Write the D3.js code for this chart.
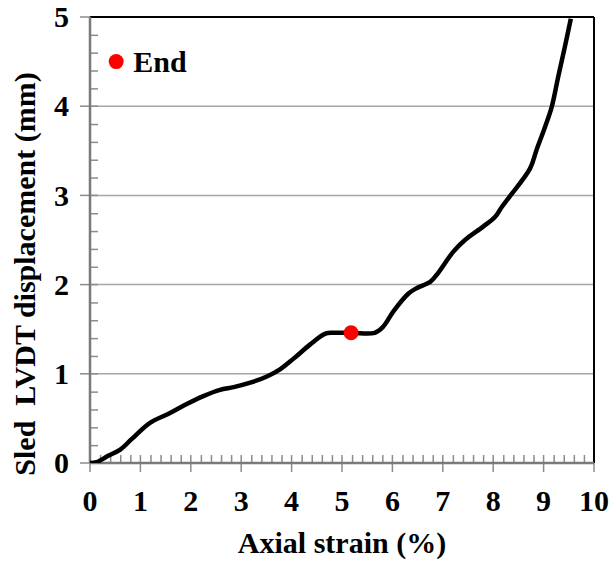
<!DOCTYPE html>
<html>
<head>
<meta charset="utf-8">
<script src="https://cdn.jsdelivr.net/npm/d3@7"></script>
<style>
  body { margin: 0; background: #fff; }
  svg text { font-family: "Liberation Serif", "Times New Roman", serif; font-weight: bold; fill: #000; }
</style>
</head>
<body>
<script>
// data
var strain = [0, 0.13, 0.36, 0.6, 0.83, 1.19, 1.55, 1.88, 2.25, 2.58, 2.85, 3.18, 3.51, 3.77, 4.04, 4.37, 4.67, 4.83, 5.2, 5.65, 5.82, 6.02, 6.32, 6.48, 6.75, 6.88, 7.21, 7.44, 7.8, 8.04, 8.17, 8.33, 8.73, 8.86, 9.03, 9.16, 9.29, 9.42, 9.54];
var displacement = [0, 0.01, 0.08, 0.15, 0.27, 0.45, 0.55, 0.65, 0.75, 0.82, 0.85, 0.90, 0.97, 1.05, 1.17, 1.33, 1.45, 1.46, 1.46, 1.46, 1.53, 1.70, 1.90, 1.96, 2.03, 2.11, 2.37, 2.50, 2.65, 2.76, 2.87, 2.99, 3.30, 3.51, 3.77, 3.99, 4.33, 4.66, 4.98];
var endPoint = [5.18, 1.46];
var xTicks = [0, 1, 2, 3, 4, 5, 6, 7, 8, 9, 10];
var yTicks = [0, 1, 2, 3, 4, 5];
var legendLabel = "End";

var W = 611, H = 565,
    margin = { top: 17, right: 17, bottom: 102, left: 90 },
    width = W - margin.left - margin.right,
    height = H - margin.top - margin.bottom;

var xScale = d3.scaleLinear().domain([0, 10]).range([0, width]);
var yScale = d3.scaleLinear().domain([0, 5]).range([height, 0]);

var svg = d3.select("body").append("svg")
    .attr("width", W)
    .attr("height", H)
    .append("g")
    .attr("transform", "translate(" + margin.left + "," + margin.top + ")");

var gray = "#8c8c8c";

// gridlines
svg.append("g")
    .selectAll("line")
    .data(yTicks.slice(1, -1))
    .enter().append("line")
    .attr("x1", 0).attr("x2", width)
    .attr("y1", d => yScale(d)).attr("y2", d => yScale(d))
    .attr("stroke", "#a6a6a6").attr("stroke-width", 1.5);

// minor ticks
var xMinor = d3.range(0, 10.001, 0.2).filter(d => Math.abs(d - Math.round(d)) > 1e-6);
var yMinor = d3.range(0, 5.001, 0.2).filter(d => Math.abs(d - Math.round(d)) > 1e-6);

svg.append("g")
    .attr("transform", "translate(0," + height + ")")
    .call(d3.axisBottom(xScale).tickValues(xMinor).tickSize(-8).tickFormat(""))
    .call(g => g.select(".domain").remove())
    .selectAll("line").attr("stroke", gray).attr("stroke-width", 1.5);
svg.append("g")
    .call(d3.axisLeft(yScale).tickValues(yMinor).tickSize(-8).tickFormat(""))
    .call(g => g.select(".domain").remove())
    .selectAll("line").attr("stroke", gray).attr("stroke-width", 1.5);

// major ticks crossing the axes
svg.append("g").selectAll("line")
    .data(xTicks).enter().append("line")
    .attr("x1", d => xScale(d)).attr("x2", d => xScale(d))
    .attr("y1", height - 8).attr("y2", height + 9)
    .attr("stroke", gray).attr("stroke-width", 1.5);
svg.append("g").selectAll("line")
    .data(yTicks).enter().append("line")
    .attr("x1", -10).attr("x2", 8)
    .attr("y1", d => yScale(d)).attr("y2", d => yScale(d))
    .attr("stroke", gray).attr("stroke-width", 1.5);

// border: black top/right, gray left/bottom axes
svg.append("line").attr("x1", 0).attr("x2", width).attr("y1", 0).attr("y2", 0)
    .attr("stroke", "#000").attr("stroke-width", 2);
svg.append("line").attr("x1", width).attr("x2", width).attr("y1", 0).attr("y2", height)
    .attr("stroke", "#000").attr("stroke-width", 2);
svg.append("line").attr("x1", 0).attr("x2", 0).attr("y1", 0).attr("y2", height)
    .attr("stroke", "#7a7a7a").attr("stroke-width", 2.5);
svg.append("line").attr("x1", 0).attr("x2", width).attr("y1", height).attr("y2", height)
    .attr("stroke", "#7a7a7a").attr("stroke-width", 2.5);

// tick labels
svg.append("g").selectAll("text")
    .data(xTicks).enter().append("text")
    .attr("x", d => xScale(d))
    .attr("y", height + 48)
    .attr("text-anchor", "middle")
    .style("font-size", "30px")
    .text(d => d);
svg.append("g").selectAll("text")
    .data(yTicks).enter().append("text")
    .attr("x", -21)
    .attr("y", d => yScale(d))
    .attr("dy", "0.34em")
    .attr("text-anchor", "end")
    .style("font-size", "30px")
    .text(d => d);

// axis titles
svg.append("text")
    .attr("x", width / 2)
    .attr("y", height + 90)
    .attr("text-anchor", "middle")
    .style("font-size", "30px")
    .text("Axial strain (%)");
svg.append("text")
    .attr("transform", "translate(" + (35 - margin.left) + "," + (274 - margin.top) + ") rotate(-90)")
    .attr("text-anchor", "middle")
    .style("font-size", "30px")
    .style("white-space", "pre")
    .attr("xml:space", "preserve")
    .text("Sled  LVDT displacement (mm)");

// curve
var points = strain.map((s, i) => [s, displacement[i]]);
var line = d3.line()
    .x(d => xScale(d[0]))
    .y(d => yScale(d[1]))
    .curve(d3.curveCatmullRom.alpha(0.5));

svg.append("defs").append("clipPath").attr("id", "clip")
    .append("rect").attr("x", 0).attr("y", 0).attr("width", width).attr("height", height);

svg.append("path")
    .attr("d", line(points))
    .attr("fill", "none")
    .attr("stroke", "#000")
    .attr("stroke-width", 4.5)
    .attr("stroke-linejoin", "round")
    .attr("clip-path", "url(#clip)");

// end marker
svg.append("circle")
    .attr("cx", xScale(endPoint[0]))
    .attr("cy", yScale(endPoint[1]))
    .attr("r", 7.5)
    .attr("fill", "#ff0000");

// legend
var legend = svg.append("g")
    .attr("transform", "translate(" + xScale(0.52) + "," + yScale(4.5) + ")");
legend.append("circle").attr("cx", 0).attr("cy", 0).attr("r", 7.5).attr("fill", "#ff0000");
legend.append("text")
    .attr("x", 17)
    .attr("y", 0)
    .attr("dy", "0.35em")
    .style("font-size", "30px")
    .text(legendLabel);
</script>
</body>
</html>
